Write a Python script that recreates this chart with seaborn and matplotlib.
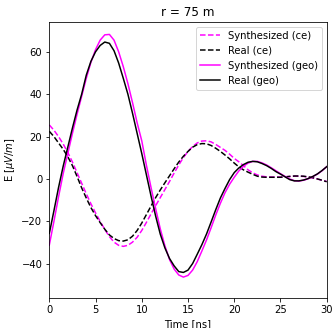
import numpy as np
import pandas as pd
import matplotlib
matplotlib.use("Agg")
import matplotlib.pyplot as plt
import seaborn as sns

time_ns = [i * 0.5 for i in range(61)]

real_geo = [
    -25.7, -15, -4, 6, 15, 24, 32.5, 40, 49, 55.5,
    60, 63, 64.6, 64, 60.5, 54.7, 47.5, 40, 31, 21.5,
    12, 2, -8, -17.5, -26, -32.5, -37.5, -41, -43.7, -44.1,
    -43, -39.9, -35.5, -31, -26, -20.3, -14.5, -9, -4.5, -0.3,
    3, 5.2, 6.8, 7.9, 8.3, 8.1, 7.3, 6.3, 5, 3.5,
    2.3, 1.0, -0.3, -0.9, -0.9, -0.5, 0.2, 1.2, 2.4, 4.0,
    5.8,
]

synth_geo = [
    -31.2, -20, -8.4, 2.5, 12, 21.5, 30.5, 39, 47.5, 55,
    61, 65.5, 68, 68.2, 65.5, 60, 53, 45, 36, 26.5,
    18, 6.5, -4, -14, -23.5, -31.5, -38, -42.5, -45.3, -46.3,
    -45.5, -43, -39, -34, -28.8, -23, -17, -11.5, -6.5, -2.5,
    0.8, 3.8, 6, 7.5, 8.3, 8.3, 7.6, 6.6, 5.3, 3.9,
    2.5, 1.2, 0, -0.8, -1.0, -0.6, 0.1, 1.1, 2.3, 3.9,
    5.8,
]

real_ce = [
    22.5, 20, 17, 14, 10.5, 6.3, 1.2, -4.2, -9, -13.5,
    -17.3, -20.6, -23.7, -26.4, -28.1, -29.1, -29.3, -28.7, -27, -24.3,
    -20.8, -16.8, -12.8, -8.8, -5.2, -1.8, 1.5, 4.8, 8, 10.7,
    13, 15, 16.2, 16.7, 16.6, 15.8, 14.5, 13, 11.3, 9.5,
    7.5, 5.7, 4.3, 3.2, 2.2, 1.3, 0.9, 0.8, 0.8, 0.8,
    0.8, 1.0, 1.2, 1.4, 1.4, 1.3, 1.0, 0.6, 0, -0.6,
    -1.3,
]

synth_ce = [
    25.5, 23, 20, 16.5, 12.5, 8, 3, -2, -7, -11.7,
    -16, -20, -23.8, -27.2, -29.8, -31.3, -31.8, -31.3, -29.8, -27.5,
    -24.3, -20.5, -16.5, -12.6, -8.8, -5, -1.2, 2.8, 6.6, 10.1,
    13, 15.3, 17, 17.9, 18, 17.5, 16.3, 14.9, 13.5, 11.7,
    9.7, 8.1, 6.3, 4.3, 2.9, 1.9, 1.3, 1.0, 0.9, 0.9,
    0.9, 1.0, 1.2, 1.3, 1.3, 1.2, 0.9, 0.5, 0, -0.6,
    -1.2,
]

series_names = ["Synthesized (ce)", "Real (ce)", "Synthesized (geo)", "Real (geo)"]
series_values = [synth_ce, real_ce, synth_geo, real_geo]
series_colors = ["#ff00ff", "black", "#ff00ff", "black"]
series_dashes = ["--", "--", "-", "-"]

df = pd.concat(
    [pd.DataFrame({"t": time_ns, "E": v, "series": n}) for n, v in zip(series_names, series_values)],
    ignore_index=True,
)

plt.rcParams.update(matplotlib.rcParamsDefault)
DPI = 72
fig = plt.figure(figsize=(334 / DPI, 328 / DPI), dpi=DPI)
ax = fig.add_axes([49.3 / 334, 1 - 298.3 / 328, (326.7 - 49.3) / 334, (298.3 - 21.7) / 328])

for n, c, ls in zip(series_names, series_colors, series_dashes):
    sub = df[df["series"] == n]
    sns.lineplot(data=sub, x="t", y="E", ax=ax, color=c, linestyle=ls, label=n, lw=1.5)

ax.set_xlim(0, 30)
ax.set_ylim(-56.3, 74.2)
ax.set_xticks([0, 5, 10, 15, 20, 25, 30])
ax.set_yticks([-40, -20, 0, 20, 40, 60])
ax.set_xlabel("Time [ns]")
ax.set_ylabel(r"E [$\mu V/m$]")
ax.set_title("r = 75 m")
ax.legend(loc="upper right")

fig.savefig("out.png", dpi=DPI)
